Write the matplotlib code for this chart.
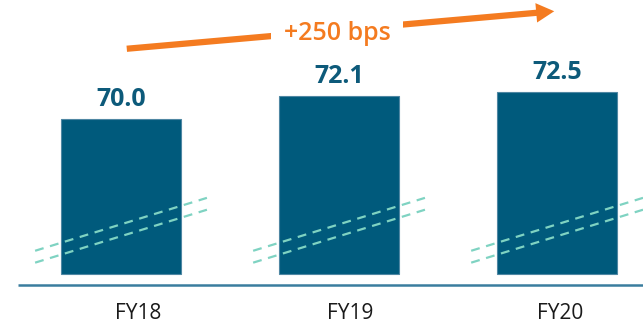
import matplotlib.pyplot as plt
from matplotlib.patches import FancyArrowPatch

plt.rcParams['font.family'] = ['Open Sans', 'DejaVu Sans']

# Data
years = ['FY18', 'FY19', 'FY20']
values = [70.0, 72.1, 72.5]
change_label = '+250 bps'

bar_color = '#005a7c'
label_color = '#0d5a7a'
orange = '#f47b20'
break_color = '#7fd3c2'

base = 55.65  # where the broken axis bars start

fig = plt.figure(figsize=(6.43, 3.24), dpi=100)
ax = fig.add_axes([0, 0, 1, 1])
ax.set_xlim(-0.555, 2.394)
ax.set_ylim(51.02, 81.02)
ax.axis('off')

x = range(len(years))
heights = [v - base for v in values]
ax.bar(x, heights, bottom=base, width=0.55, color=bar_color,
       edgecolor='#4f87a3', linewidth=0.8)

# value labels
for i, v in zip(x, values):
    ax.annotate(f'{v:.1f}', (i, v), xytext=(0, 5), textcoords='offset points',
                ha='center', va='bottom', fontsize=18, fontweight='bold',
                color=label_color)

# category labels under the axis line
for i, name in zip(x, years):
    off = [0.08, 0.05, 0.015][i]
    ax.text(i + off, 52.0, name, ha='center', va='center', fontsize=15,
            color='#1a1a1a')

# axis line
ax.plot([-0.472, 2.394], [54.63, 54.63], color='#3a7d9e', lw=1.8,
        solid_capstyle='butt')

# axis break dashes across each bar
for i in x:
    for lo, hi in [(2.15, 7.05), (1.05, 5.95)]:
        ax.plot([i - 0.394, i + 0.394], [base + lo, base + hi],
                color=break_color, lw=1.6, dashes=(4, 3))

# growth arrow
arrow = FancyArrowPatch((124, 324 - 49), (557, 324 - 11),
                        transform=None,
                        arrowstyle='simple,head_width=14,head_length=13,tail_width=4.5',
                        mutation_scale=1, color=orange, lw=0)
ax.add_patch(arrow)
fig.text(337 / 643, 1 - 33 / 324, change_label, ha='center', va='center',
         fontsize=18, fontweight='semibold', color=orange,
         bbox=dict(facecolor='white', edgecolor='none', pad=9))

fig.savefig('out.png', dpi=100)
